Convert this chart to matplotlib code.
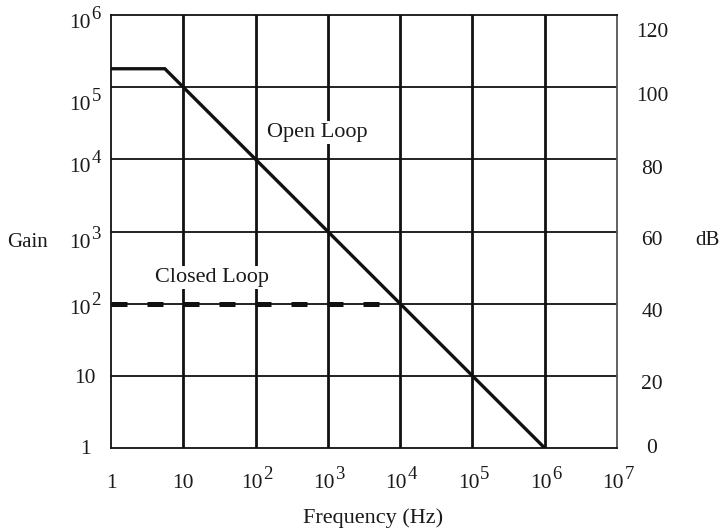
import numpy as np
import matplotlib.pyplot as plt
from matplotlib.transforms import blended_transform_factory

plt.rcParams['font.family'] = ['Liberation Serif', 'DejaVu Serif']

# open loop response (gain vs frequency)
open_freq = [1, 5.56, 1e6]
open_gain = [1.8e5, 1.8e5, 1]

# closed loop response
closed_freq = [1, 1e4]
closed_gain = [100, 100]

x_ticks = [1, 10, 1e2, 1e3, 1e4, 1e5, 1e6, 1e7]
x_labels = ['1', '10', '10^2', '10^3', '10^4', '10^5', '10^6', '10^7']
y_ticks = [1, 10, 1e2, 1e3, 1e4, 1e5, 1e6]
y_labels = ['1', '10', '10^2', '10^3', '10^4', '10^5', '10^6']
db_ticks = [0, 20, 40, 60, 80, 100, 120]

# hand placed label nudges (pixels, up positive) as in the original drawing
y_nudge = [1, 0, -3.5, -9.5, -5.5, -16, -5.5]
db_nudge = [2.5, -5.5, -6, -6, -7, -7, -14.5]

INK = '#1a1a1a'
TS = 15.5   # tick font size
ES = 13.5   # exponent font size
HALF = 7.3  # half the digit height in px

fig = plt.figure(figsize=(7.25, 5.31), dpi=100)
fig.subplots_adjust(left=111/725, right=617/725, top=1-15/531, bottom=1-448/531)
ax = fig.add_subplot(1, 1, 1)

ax.set_xscale('log')
ax.set_yscale('log')
ax.set_xlim(1, 1e7)
ax.set_ylim(1, 1e6)

# grid: vertical lines heavier than horizontal ones
for xv in x_ticks[1:-1]:
    ax.axvline(xv, color='#111111', lw=2.0, zorder=1)
for yv in y_ticks[1:-1]:
    ax.axhline(yv, color='#111111', lw=1.3, zorder=1)

ax.plot(open_freq, open_gain, color='#111111', lw=2.4, solid_joinstyle='miter', zorder=3)
ax.plot(closed_freq, closed_gain, color='#111111', lw=3.6, dashes=(3.2, 4.0),
        dash_capstyle='butt', zorder=3)

ax.set_xticks([])
ax.set_yticks([])
ax.minorticks_off()
for s in ax.spines.values():
    s.set_linewidth(1.3)
    s.set_color('#111111')
ax.spines['right'].set_color('#555555')

bx = blended_transform_factory(ax.transData, ax.transAxes)
by = blended_transform_factory(ax.transAxes, ax.transData)


def put(trans, xy, label, dx, dy, split):
    # dx, dy: centre of the label (pixels from the anchor); split: where "10" ends
    if '^' in label:
        base, ex = label.split('^')
        ax.annotate(base, xy, xycoords=trans, xytext=(dx + split, dy - HALF),
                    textcoords='offset pixels', ha='right', va='baseline',
                    fontsize=TS, color=INK, annotation_clip=False)
        ax.annotate(ex, xy, xycoords=trans, xytext=(dx + split + 0.5, dy - HALF + 9),
                    textcoords='offset pixels', ha='left', va='baseline',
                    fontsize=ES, color=INK, annotation_clip=False)
    else:
        ax.annotate(label, xy, xycoords=trans, xytext=(dx, dy - HALF),
                    textcoords='offset pixels', ha='center', va='baseline',
                    fontsize=TS, color=INK, annotation_clip=False)


for xv, lab in zip(x_ticks, x_labels):
    put(bx, (xv, 0), lab, 0, -33, 7)
for yv, lab, nd in zip(y_ticks, y_labels, y_nudge):
    put(by, (0, yv), lab, -26, nd, 6)

ax2 = ax.twinx()
ax2.set_ylim(0, 120)
ax2.set_yticks([])
for s in ax2.spines.values():
    s.set_visible(False)
by2 = blended_transform_factory(ax2.transAxes, ax2.transData)
for dv, nd in zip(db_ticks, db_nudge):
    ax2.annotate(str(dv), (1, dv), xycoords=by2, xytext=(35, nd - HALF),
                 textcoords='offset pixels', ha='center', va='baseline',
                 fontsize=TS, color=INK, annotation_clip=False)

box = dict(facecolor='white', edgecolor='none', pad=1.5)
fig.text(317.5/725, 1-137/531, 'Open Loop', fontsize=16, ha='center', va='baseline',
         color=INK, bbox=box)
fig.text(212/725, 1-282/531, 'Closed Loop', fontsize=16, ha='center', va='baseline',
         color=INK, bbox=box)

fig.text(28/725, 1-247/531, 'Gain', fontsize=15, ha='center', va='baseline', color=INK)
fig.text(707/725, 1-245/531, 'dB', fontsize=15, ha='center', va='baseline', color=INK)
fig.text(373/725, 1-523/531, 'Frequency (Hz)', fontsize=16, ha='center', va='baseline', color=INK)

fig.savefig('out.png', dpi=100)
